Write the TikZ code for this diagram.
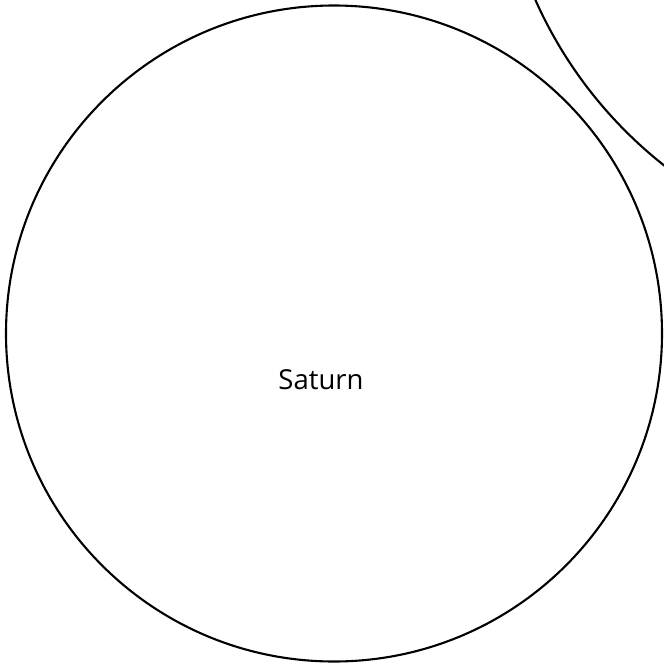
\documentclass[tikz,border=0pt]{standalone}
\usepackage{fontspec}
\setmainfont{Open Sans}
\begin{document}
\begin{tikzpicture}[x=1pt,y=-1pt,
  planet/.style={draw=black,line width=2.1pt,fill=none},
  lbl/.style={font=\fontsize{27.5}{32}\selectfont,inner sep=0pt,anchor=base}]
\useasboundingbox[fill=white] (0,0) rectangle (664,665);
\begin{scope}
\clip (0,0) rectangle (664,665);
\node[planet,circle,minimum size=656pt,inner sep=0pt] (saturn) at (334,333.5) {};
\node[planet,circle,minimum size=872pt,inner sep=0pt] (jupiter) at (934,-177) {};
\end{scope}
\node[lbl] (saturnlabel) at (321,389.5) {Saturn};
\end{tikzpicture}
\end{document}
